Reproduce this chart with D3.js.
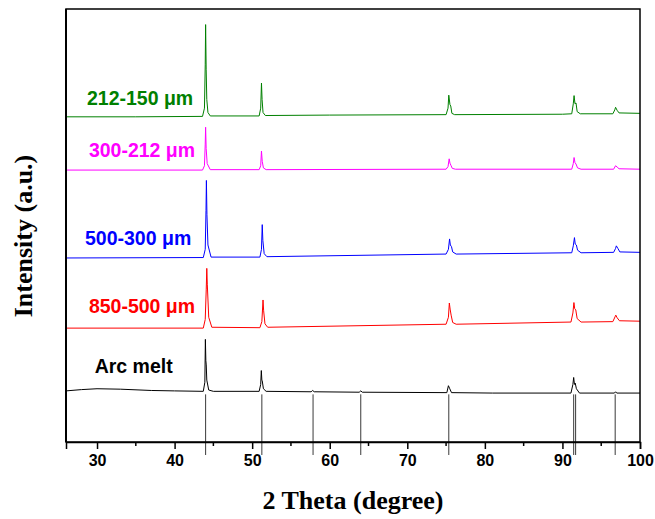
<!DOCTYPE html>
<html>
<head>
<meta charset="utf-8">
<script src="https://cdn.jsdelivr.net/npm/d3@7"></script>
<style>
  body { margin: 0; background: #fff; }
</style>
</head>
<body>
<svg id="chart" width="655" height="519"></svg>
<script>
// XRD patterns, stacked. Intensity is in a.u., each series drawn on top of its offset
const seriesNames = ['Arc melt', '850-500 \u03bcm', '500-300 \u03bcm', '300-212 \u03bcm', '212-150 \u03bcm'];
const seriesColors = ['#000000', '#ff0000', '#0000ff', '#ff00ff', '#008000'];
const seriesOffsets = [118, 263, 425, 628, 751];

const arcMelt = [[26, 0], [28, 3], [30, 5], [33, 4], [37, 1], [40, 0], [43.7, -1], [43.9, 20], [43.97, 119],
  [44.03, 70], [44.08, 60], [44.15, 25], [44.4, 2], [45, -1], [50.9, -1], [51.1, 15], [51.18, 47], [51.25, 25],
  [51.3, 23], [51.45, 5], [51.8, -1], [57.6, -2], [57.8, 1], [58.0, -2], [63.8, -3], [64.0, 0], [64.2, -3],
  [75.1, -4], [75.3, 12], [75.45, 6], [75.7, -4], [81, -5], [91.1, -5], [91.35, 15], [91.45, 31], [91.55, 15],
  [91.65, 18], [91.8, 5], [92.2, -5], [96.7, -5], [96.85, -2], [97.0, -5], [100, -5]];

const size850 = [[26, 0], [43.7, 0], [43.95, 20], [44.08, 90], [44.15, 138], [44.22, 100], [44.4, 25], [44.8, 2],
  [51.0, 1], [51.25, 15], [51.4, 65], [51.48, 40], [51.65, 10], [52.0, 2], [75.0, 9], [75.3, 25], [75.42, 58],
  [75.52, 44], [75.65, 30], [75.85, 13], [76.3, 9], [91.1, 14], [91.35, 35], [91.48, 59], [91.58, 45],
  [91.72, 42], [91.9, 22], [92.4, 14], [96.5, 15], [96.78, 26], [96.88, 30], [97.05, 24], [97.35, 17], [100, 16]];

const size500 = [[26, 0], [43.7, 1], [43.95, 20], [44.05, 110], [44.1, 179], [44.17, 100], [44.3, 30], [44.7, 2],
  [51.0, 2], [51.2, 20], [51.3, 77], [51.38, 40], [51.55, 10], [51.9, 3], [75.0, 9], [75.3, 20], [75.45, 44],
  [75.55, 30], [75.7, 26], [75.85, 14], [76.3, 9], [91.2, 12], [91.4, 28], [91.55, 47], [91.65, 32], [91.8, 30],
  [91.95, 18], [92.4, 12], [96.6, 13], [96.85, 22], [96.95, 28], [97.15, 22], [97.4, 14], [100, 13]];

const size300 = [[26, 0], [43.6, 0], [43.85, 10], [43.95, 60], [44.0, 99], [44.07, 50], [44.2, 15], [44.6, 1],
  [50.9, 1], [51.1, 10], [51.2, 44], [51.3, 20], [51.45, 5], [51.8, 1], [75.0, 2], [75.25, 8], [75.4, 26],
  [75.5, 16], [75.65, 10], [75.8, 4], [76.2, 2], [91.2, 2], [91.4, 15], [91.5, 29], [91.62, 17], [91.75, 14],
  [91.95, 5], [92.4, 2], [96.6, 2], [96.85, 10], [97.05, 7], [97.3, 3], [100, 2]];

const size212 = [[26, 0], [35, 0], [43.6, 1], [43.85, 20], [43.95, 120], [44.0, 213], [44.07, 110], [44.15, 40],
  [44.3, 10], [44.6, 2], [50.9, 2], [51.1, 20], [51.2, 78], [51.28, 40], [51.4, 10], [51.7, 3], [60, 4],
  [75.0, 5], [75.25, 20], [75.35, 50], [75.5, 28], [75.6, 25], [75.75, 8], [76.1, 5], [90, 6], [91.2, 7],
  [91.4, 30], [91.5, 49], [91.62, 30], [91.75, 32], [91.9, 12], [92.3, 7], [96.5, 7], [96.75, 16], [96.85, 22],
  [97.05, 15], [97.3, 9], [100, 8]];

const seriesData = [arcMelt, size850, size500, size300, size212];

// reference pattern sticks
const refPeaks = [44.0, 51.25, 57.85, 64.0, 75.35, 91.45, 91.7, 96.8];
const refTop = 110;
const refBottom = -30;

// label positions [2theta, intensity]
const labelPos = [[29.7, 159], [28.95, 298], [28.45, 455], [28.95, 658], [28.7, 778]];

const xTicks = [30, 40, 50, 60, 70, 80, 90, 100];
const xMinorTicks = [35, 45, 55, 65, 75, 85, 95];

const width = 655;
const height = 519;
const margin = { left: 66, right: 15, top: 9, bottom: 77 };

const svg = d3.select('#chart');

const x = d3.scaleLinear()
  .domain([26, 100])
  .range([margin.left, width - margin.right]);

const y = d3.scaleLinear()
  .domain([0, 1000])
  .range([height - margin.bottom, margin.top]);

const line = d3.line()
  .x(d => x(d[0]))
  .y(d => y(d[1]));

svg.append('defs').append('clipPath')
  .attr('id', 'plot-clip')
  .append('rect')
  .attr('x', margin.left)
  .attr('y', margin.top)
  .attr('width', width - margin.left - margin.right)
  .attr('height', height - margin.top - margin.bottom);

// stick pattern
svg.append('g')
  .selectAll('line')
  .data(refPeaks)
  .enter()
  .append('line')
  .attr('x1', d => x(d))
  .attr('x2', d => x(d))
  .attr('y1', y(refTop))
  .attr('y2', y(refBottom))
  .attr('stroke', '#222')
  .attr('stroke-width', 0.9);

svg.append('g')
  .attr('clip-path', 'url(#plot-clip)')
  .selectAll('path')
  .data(seriesData)
  .enter()
  .append('path')
  .attr('d', (d, i) => line(d.map(p => [p[0], p[1] + seriesOffsets[i]])))
  .attr('fill', 'none')
  .attr('stroke', (d, i) => seriesColors[i])
  .attr('stroke-width', 1)
  .attr('stroke-linejoin', 'round');

svg.append('g')
  .selectAll('text')
  .data(seriesNames)
  .enter()
  .append('text')
  .attr('x', (d, i) => x(labelPos[i][0]))
  .attr('y', (d, i) => y(labelPos[i][1]))
  .attr('fill', (d, i) => seriesColors[i])
  .style('font-family', 'Arial, "Liberation Sans", sans-serif')
  .style('font-weight', 'bold')
  .style('font-size', '19.5px')
  .text(d => d);

// frame
svg.append('rect')
  .attr('x', margin.left)
  .attr('y', margin.top)
  .attr('width', width - margin.left - margin.right)
  .attr('height', height - margin.top - margin.bottom)
  .attr('fill', 'none')
  .attr('stroke', '#000')
  .attr('stroke-width', 1.5);

svg.append('line')
  .attr('x1', margin.left)
  .attr('x2', margin.left)
  .attr('y1', margin.top)
  .attr('y2', height - margin.bottom)
  .attr('stroke', '#000')
  .attr('stroke-width', 2);

const xAxis = svg.append('g')
  .attr('transform', `translate(0,${height - margin.bottom})`)
  .call(d3.axisBottom(x).tickValues(xTicks).tickSize(7).tickPadding(6).tickFormat(d3.format('d')));

xAxis.select('.domain').attr('stroke-width', 1.5);
xAxis.selectAll('.tick line').attr('stroke-width', 1.5);
xAxis.selectAll('text')
  .style('font-family', 'Arial, "Liberation Sans", sans-serif')
  .style('font-weight', 'bold')
  .style('font-size', '16px')
  .attr('fill', '#000');

svg.append('g')
  .attr('transform', `translate(0,${height - margin.bottom})`)
  .selectAll('line')
  .data(xMinorTicks)
  .enter()
  .append('line')
  .attr('x1', d => x(d))
  .attr('x2', d => x(d))
  .attr('y1', 0)
  .attr('y2', 4)
  .attr('stroke', '#000')
  .attr('stroke-width', 1.5);

svg.append('text')
  .attr('x', (margin.left + width - margin.right) / 2)
  .attr('y', 509)
  .attr('text-anchor', 'middle')
  .style('font-family', '"Times New Roman", "Liberation Serif", serif')
  .style('font-weight', 'bold')
  .style('font-size', '26px')
  .text('2 Theta (degree)');

svg.append('text')
  .attr('transform', 'translate(32,236) rotate(-90)')
  .attr('text-anchor', 'middle')
  .style('font-family', '"Times New Roman", "Liberation Serif", serif')
  .style('font-weight', 'bold')
  .style('font-size', '26px')
  .text('Intensity (a.u.)');
</script>
</body>
</html>
